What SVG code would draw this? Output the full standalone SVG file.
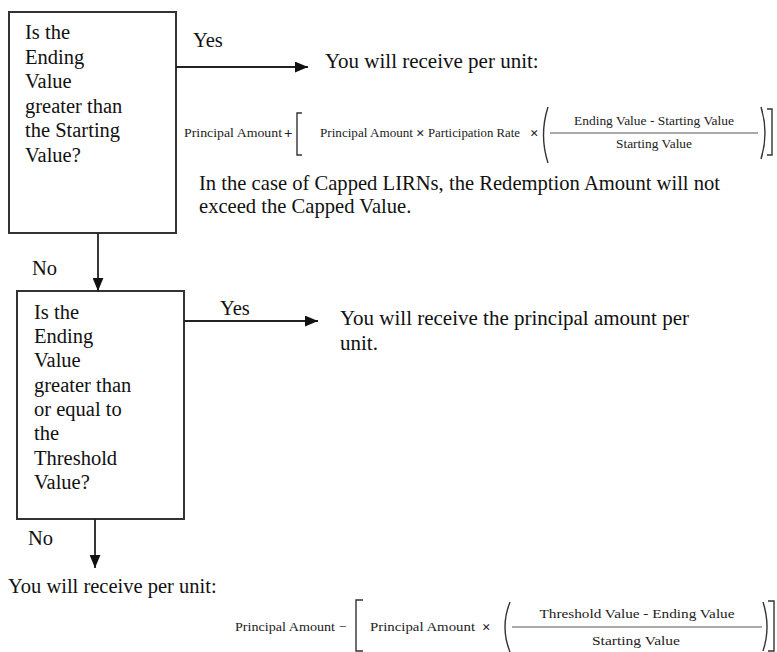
<svg xmlns="http://www.w3.org/2000/svg" width="777" height="652" viewBox="0 0 777 652">
<style>
  .t { font-family: "Liberation Serif", "Times New Roman", serif; font-size: 20.5px; fill: #111; }
  .r { font-family: "Liberation Serif", "Times New Roman", serif; font-size: 21px; fill: #111; }
  .f1 { font-family: "Liberation Serif", "Times New Roman", serif; font-size: 12px; fill: #222; }
  .f2 { font-family: "Liberation Serif", "Times New Roman", serif; font-size: 13.5px; fill: #222; }
  .op { font-family: "Liberation Serif", "Times New Roman", serif; font-size: 15px; font-weight: bold; fill: #222; }
  .box { fill: #fff; stroke: #333; stroke-width: 2; }
  .edge { fill: none; stroke: #222; stroke-width: 1.8; }
  .br { fill: none; stroke: #333; stroke-width: 1.4; }
  .frac { stroke: #aaa; stroke-width: 2; }
</style>
<defs>
  <marker id="arr" viewBox="0 0 12 10" refX="12" refY="5" markerWidth="13" markerHeight="11" markerUnits="userSpaceOnUse" orient="auto">
    <path d="M0,0 L12,5 L0,10 Z" fill="#111"/>
  </marker>
</defs>
<rect width="777" height="652" fill="#fff"/>

<g id="node-q1">
  <rect class="box" x="9" y="12" width="167" height="221"/>
  <text class="t" x="25" y="39">Is the</text>
  <text class="t" x="25" y="64">Ending</text>
  <text class="t" x="25" y="88">Value</text>
  <text class="t" x="25" y="113">greater than</text>
  <text class="t" x="25" y="137">the Starting</text>
  <text class="t" x="25" y="162">Value?</text>
</g>

<g id="node-q2">
  <rect class="box" x="17" y="291" width="167" height="228"/>
  <text class="t" x="34" y="319">Is the</text>
  <text class="t" x="34" y="343">Ending</text>
  <text class="t" x="34" y="367">Value</text>
  <text class="t" x="34" y="392">greater than</text>
  <text class="t" x="34" y="416">or equal to</text>
  <text class="t" x="34" y="440">the</text>
  <text class="t" x="34" y="465">Threshold</text>
  <text class="t" x="34" y="489">Value?</text>
</g>

<g id="node-result1">
  <text class="r" x="325" y="68">You will receive per unit:</text>
  <text class="f1" x="184" y="137" textLength="98" lengthAdjust="spacingAndGlyphs">Principal Amount</text>
  <text class="op" x="284" y="138">+</text>
  <path class="br" d="M302,113 H297 V155 H302"/>
  <text class="f1" x="320" y="137" textLength="93" lengthAdjust="spacingAndGlyphs">Principal Amount</text>
  <text class="op" x="416" y="138">×</text>
  <text class="f1" x="428" y="137" textLength="92" lengthAdjust="spacingAndGlyphs">Participation Rate</text>
  <text class="op" x="530" y="138">×</text>
  <path class="br" d="M548,107 Q539,135 548,163"/>
  <line class="frac" x1="550" y1="133" x2="758" y2="133"/>
  <text class="f1" x="654" y="125" text-anchor="middle" textLength="160" lengthAdjust="spacingAndGlyphs">Ending Value - Starting Value</text>
  <text class="f1" x="654" y="148" text-anchor="middle" textLength="76" lengthAdjust="spacingAndGlyphs">Starting Value</text>
  <path class="br" d="M761,107 Q769,133 761,159"/>
  <path class="br" d="M767,109 H772 V155 H767"/>
  <text class="t" x="199" y="190" style="font-size:20.6px">In the case of Capped LIRNs, the Redemption Amount will not</text>
  <text class="t" x="199" y="213" style="font-size:20.6px">exceed the Capped Value.</text>
</g>

<g id="node-result2">
  <text class="r" x="340" y="325">You will receive the principal amount per</text>
  <text class="r" x="340" y="350">unit.</text>
</g>

<g id="node-result3">
  <text class="t" x="8" y="593">You will receive per unit:</text>
  <text class="f2" x="235" y="631" textLength="100" lengthAdjust="spacingAndGlyphs">Principal Amount</text>
  <text class="f2" x="339" y="631">−</text>
  <path class="br" d="M363,600 H356 V651 H363"/>
  <text class="f2" x="370" y="631" textLength="105" lengthAdjust="spacingAndGlyphs">Principal Amount</text>
  <text class="op" x="482" y="632">×</text>
  <path class="br" d="M510,602 Q500,627 510,652"/>
  <line class="frac" x1="512" y1="627" x2="762" y2="627"/>
  <text class="f2" x="637" y="618" text-anchor="middle" textLength="195" lengthAdjust="spacingAndGlyphs">Threshold Value - Ending Value</text>
  <text class="f2" x="636" y="645" text-anchor="middle" textLength="88" lengthAdjust="spacingAndGlyphs">Starting Value</text>
  <path class="br" d="M763,602 Q771,627 763,651"/>
  <path class="br" d="M768,601 H774 V651 H768"/>
</g>

<g id="connectors">
  <line class="edge" x1="176" y1="67" x2="308" y2="67" marker-end="url(#arr)"/>
  <text class="t" x="193" y="47">Yes</text>
  <line class="edge" x1="98" y1="233" x2="98" y2="291" marker-end="url(#arr)"/>
  <text class="t" x="32" y="275">No</text>
  <line class="edge" x1="184" y1="321" x2="318" y2="321" marker-end="url(#arr)"/>
  <text class="t" x="220" y="315">Yes</text>
  <line class="edge" x1="95" y1="519" x2="95" y2="568" marker-end="url(#arr)"/>
  <text class="t" x="28" y="545">No</text>
</g>
</svg>
